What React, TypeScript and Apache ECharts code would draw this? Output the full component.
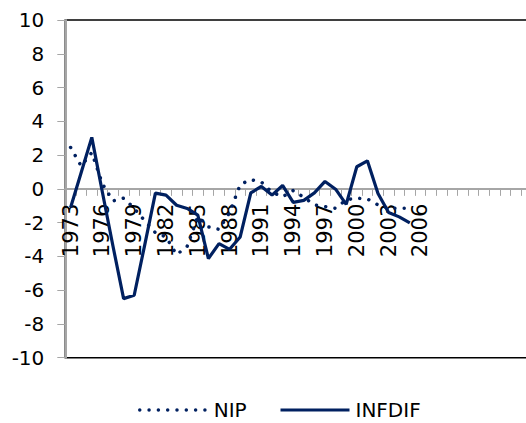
import React, { useEffect, useRef } from "react";
import * as echarts from "echarts";

const years: string[] = [
  "1973", "1974", "1975", "1976", "1977", "1978", "1979", "1980", "1981", "1982",
  "1983", "1984", "1985", "1986", "1987", "1988", "1989", "1990", "1991", "1992",
  "1993", "1994", "1995", "1996", "1997", "1998", "1999", "2000", "2001", "2002",
  "2003", "2004", "2005", "2006",
];
const emptyCategoryCount = 10;

const nip: number[] = [
  2.45, 1.35, 2.15, 0.3, -0.72, -0.55, -1.15, -1.9, -2.6, -2.85,
  -3.9, -3.4, -1.65, -2.25, -2.4, -1.4, 0.25, 0.55, 0.4, -0.2,
  -0.47, -0.1, -0.5, -0.95, -1.05, -1.15, -0.65, -0.55, -0.6, -0.95,
  -1.15, -1.15, -1.15,
];
const infdif: number[] = [
  -1.1, 0.97, 3.05, -0.2, -3.4, -6.5, -6.3, -3.3, -0.25, -0.37,
  -0.97, -1.16, -1.56, -4.13, -3.24, -3.58, -2.85, -0.24, 0.14, -0.37,
  0.2, -0.8, -0.68, -0.24, 0.44, -0.02, -0.92, 1.31, 1.66, -0.27,
  -1.4, -1.66, -2.02,
];

const FONT = "DejaVu Sans";
const NAVY = "#002060";
const GRAY = "#a6a6a6";

export default function App() {
  const ref = useRef<HTMLDivElement>(null);
  useEffect(() => {
    if (!ref.current) return;
    const chart = echarts.init(ref.current, undefined, { renderer: "svg" });
    const categories = years.concat(Array(emptyCategoryCount).fill(""));
    const legendText = {
      fontFamily: FONT,
      fontSize: 20,
      lineHeight: 22,
      color: "#000",
      padding: [0, 0, 0, 1],
    };
    chart.setOption({
      animation: false,
      backgroundColor: "#fff",
      grid: {
        left: 65.3,
        top: 20,
        width: 466.4,
        height: 337.7,
        show: true,
        borderColor: "#000",
        borderWidth: 1.5,
        backgroundColor: "transparent",
        containLabel: false,
        outerBoundsMode: "none",
      },
      legend: [
        {
          data: ["NIP"],
          left: 138,
          top: 399,
          padding: 0,
          itemWidth: 68,
          itemHeight: 14,
          textStyle: legendText,
          lineStyle: { width: 3.5 },
          itemStyle: { opacity: 0 },
        },
        {
          data: ["INFDIF"],
          left: 279,
          top: 399,
          padding: 0,
          itemWidth: 69,
          itemHeight: 14,
          textStyle: legendText,
          lineStyle: { width: 3 },
          itemStyle: { opacity: 0 },
        },
      ],
      xAxis: {
        type: "category",
        data: categories,
        boundaryGap: true,
        axisLine: { onZero: true, lineStyle: { color: GRAY, width: 2 } },
        axisTick: { show: true, interval: 0, length: 7, lineStyle: { color: GRAY, width: 1 } },
        axisLabel: {
          interval: 2,
          rotate: 90,
          margin: -154,
          fontFamily: FONT,
          fontSize: 21,
          color: "#000",
        },
        splitLine: { show: false },
      },
      yAxis: {
        type: "value",
        min: -10,
        max: 10,
        interval: 2,
        axisLine: { show: true, lineStyle: { color: GRAY, width: 2 } },
        axisTick: { show: true, length: 8, lineStyle: { color: GRAY, width: 1 } },
        axisLabel: { margin: 21, fontFamily: FONT, fontSize: 20, color: "#000" },
        splitLine: { show: false },
      },
      series: [
        {
          name: "NIP",
          type: "line",
          data: nip,
          symbol: "none",
          lineStyle: { color: NAVY, width: 3.5, type: [0.01, 9.3], cap: "round" },
          itemStyle: { color: NAVY },
        },
        {
          name: "INFDIF",
          type: "line",
          data: infdif,
          symbol: "none",
          lineStyle: { color: NAVY, width: 3.2 },
          itemStyle: { color: NAVY },
        },
      ],
    });
    return () => chart.dispose();
  }, []);
  return (
    <div
      ref={ref}
      style={{ position: "absolute", left: 0, top: 0, width: 526, height: 423 }}
    />
  );
}
